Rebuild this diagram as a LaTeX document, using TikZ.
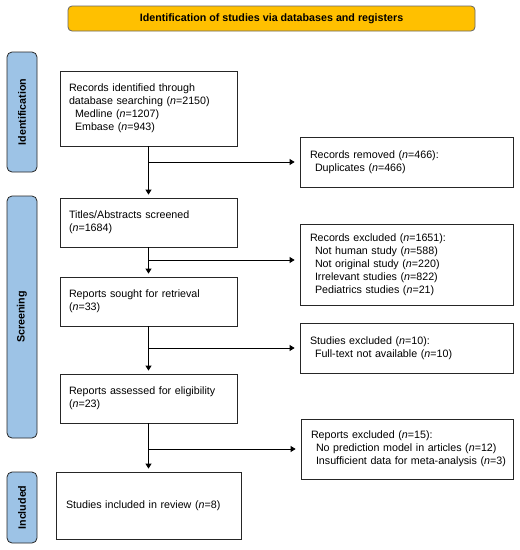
\documentclass[tikz,border=0pt]{standalone}
\usepackage{fontspec}
\setmainfont{Liberation Sans}
\usetikzlibrary{arrows.meta}
\definecolor{titleor}{HTML}{FFC000}
\definecolor{barblue}{HTML}{9DC3E6}
\tikzset{
  x=1pt,y=-1pt,
  every node/.style={font=\fontsize{10.7}{13}\selectfont},
  lbox/.style={draw=black!85, line width=0.8pt, align=left, inner xsep=9pt, inner ysep=0pt, text width=159pt, minimum height=#1},
  rbox/.style={draw=black!85, line width=0.8pt, align=left, inner xsep=10pt, inner ysep=0pt, text width=193pt, minimum height=#1},
  sidebar/.style={draw=black!85, line width=0.8pt, fill=barblue, rounded corners=5pt, minimum width=30pt, minimum height=#1, inner sep=0pt},
  sidelabel/.style={rotate=90, font=\fontsize{10.7}{13}\selectfont\bfseries},
  arr/.style={line width=0.8pt, -{Triangle[length=5pt,width=6pt]}},
  ln/.style={line width=0.8pt}
}
\begin{document}
\begin{tikzpicture}
\useasboundingbox (0,0) rectangle (520,550);
\node[draw=black!60, line width=0.8pt, fill=titleor, rounded corners=4pt, minimum width=407pt, minimum height=25pt, inner sep=0pt, font=\fontsize{10.7}{13}\selectfont\bfseries] (title) at (271.5,18.5) {Identification of studies via databases and registers};

\node[sidebar=120pt] (barI) at (22,112) {};
\node[sidelabel] (labI) at (barI.center) {Identification};
\node[sidebar=242pt] (barS) at (22,317) {};
\node[sidelabel] (labS) at (barS.center) {Screening};
\node[sidebar=71pt] (barN) at (22,507.5) {};
\node[sidelabel] (labN) at (barN.center) {Included};

\node[lbox=75pt] (b1) at (148.5,108.5) {Records identified through\\database searching (\textit{n}=2150)\\\hspace*{6pt}Medline (\textit{n}=1207)\\\hspace*{6pt}Embase (\textit{n}=943)};
\node[lbox=49pt] (b2) at (148.5,222.5) {Titles/Abstracts screened\\(\textit{n}=1684)};
\node[lbox=49pt] (b3) at (148.5,301.5) {Reports sought for retrieval\\(\textit{n}=33)};
\node[lbox=49pt] (b4) at (148.5,398.5) {Reports assessed for eligibility\\(\textit{n}=23)};
\node[draw=black!85, line width=0.8pt, align=left, inner xsep=10pt, inner ysep=0pt, text width=165pt, minimum height=67pt] (b5) at (148.5,505.5) {Studies included in review (\textit{n}=8)};

\node[rbox=50pt] (r1) at (406.5,162) {Records removed (\textit{n}=466):\\\hspace*{5pt}Duplicates (\textit{n}=466)};
\node[rbox=81pt] (r2) at (406.5,264.5) {Records excluded (\textit{n}=1651):\\\hspace*{5pt}Not human study (\textit{n}=588)\\\hspace*{5pt}Not original study (\textit{n}=220)\\\hspace*{5pt}Irrelevant studies (\textit{n}=822)\\\hspace*{5pt}Pediatrics studies (\textit{n}=21)};
\node[rbox=50pt] (r3) at (406.5,348) {Studies excluded (\textit{n}=10):\\\hspace*{5pt}Full-text not available (\textit{n}=10)};
\node[rbox=60pt, text width=192pt] (r4) at (407,449) {Reports excluded (\textit{n}=15):\\\hspace*{5pt}\mbox{No prediction model in articles (\textit{n}=12)}\\\hspace*{5pt}\mbox{Insufficient data for meta-analysis (\textit{n}=3)}};

\coordinate (j1) at (b1.south |- r1.west);
\coordinate (j2) at (148.5,260);
\coordinate (j3) at (b3.south |- r3.west);
\coordinate (j4) at (b4.south |- r4.west);

\draw[arr, shorten >=3pt] (b1) -- (b2);
\draw[arr, shorten >=3pt] (b2) -- (b3);
\draw[arr, shorten >=3pt] (b3) -- (b4);
\draw[arr, shorten >=3pt] (b4) -- (b5);
\draw[arr, shorten >=5pt] (j1) -- (r1.west |- j1);
\draw[arr, shorten >=5pt] (j2) -- (r2.west |- j2);
\draw[arr, shorten >=5pt] (j3) -- (r3.west |- j3);
\draw[arr, shorten >=5pt] (j4) -- (r4.west |- j4);
\end{tikzpicture}
\end{document}
